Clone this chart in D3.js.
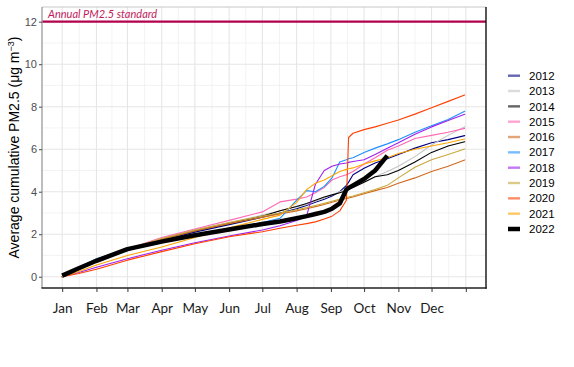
<!DOCTYPE html>
<html>
<head>
<meta charset="utf-8">
<script src="https://cdn.jsdelivr.net/npm/d3@7"></script>
<style>
  html, body { margin: 0; padding: 0; background: #fff; }
  svg { display: block; }
</style>
</head>
<body>
<svg id="chart" width="574" height="367"></svg>
<script>
// ---------- DATA ----------
const days = [1,16,32,60,91,121,152,182,198,213,222,230,238,245,252,258,260,264,274,284,295,305,320,335,350,365];

const v2012 = [0,0.35,0.8,1.25,1.7,2.1,2.45,2.8,3.0,3.2,3.35,3.5,3.65,3.8,4.0,4.3,4.45,4.8,5.1,5.35,5.55,5.75,6.05,6.3,6.45,6.64];
const v2013 = [0,0.35,0.8,1.3,1.8,2.2,2.55,2.9,3.1,3.3,3.4,3.55,3.7,3.85,4.0,4.1,4.12,4.2,4.45,4.7,4.95,5.2,5.65,6.2,6.65,7.06];
const v2014 = [0,0.35,0.8,1.25,1.75,2.15,2.5,2.85,3.1,3.3,3.45,3.6,3.75,3.85,3.95,4.05,4.1,4.2,4.45,4.7,4.8,5.0,5.4,5.85,6.15,6.35];
const v2015 = [0,0.35,0.75,1.3,1.85,2.25,2.65,3.05,3.52,3.65,3.75,3.95,4.2,4.55,4.7,4.8,4.85,4.95,5.3,5.6,5.95,6.15,6.5,6.65,6.8,6.98];
const v2016 = [0,0.4,0.85,1.3,1.75,2.15,2.5,2.8,2.95,3.1,3.2,3.3,3.4,3.5,3.6,3.68,3.7,3.75,3.9,4.05,4.2,4.4,4.65,4.95,5.2,5.49];
const v2017 = [0,0.45,0.85,1.3,1.65,1.95,2.25,2.55,2.75,3.6,4.05,4.0,4.25,4.65,5.4,5.5,5.55,5.6,5.85,6.05,6.25,6.45,6.8,7.1,7.4,7.78];
const v2018 = [0,0.2,0.45,0.85,1.25,1.6,1.92,2.2,2.4,2.65,2.85,4.35,5.0,5.2,5.3,5.35,5.38,5.42,5.5,5.75,6.05,6.3,6.7,7.05,7.35,7.64];
const v2019 = [0,0.35,0.8,1.3,1.8,2.2,2.55,2.85,3.0,3.15,3.25,3.35,3.45,3.55,3.65,3.72,3.75,3.8,3.95,4.1,4.3,4.65,5.15,5.5,5.75,6.01];
const v2020 = [0,0.15,0.35,0.78,1.18,1.55,1.88,2.12,2.28,2.42,2.5,2.58,2.72,2.85,3.1,3.6,6.55,6.75,6.92,7.05,7.22,7.37,7.65,7.95,8.25,8.55];
const v2021 = [0,0.25,0.55,1.0,1.4,1.85,2.3,2.7,2.9,3.5,4.1,4.4,4.55,4.75,4.95,5.05,5.08,5.12,5.3,5.45,5.6,5.8,6.0,6.15,6.3,6.48];
const v2022 = [0.05,0.4,0.75,1.3,1.65,1.95,2.22,2.48,2.6,2.75,2.85,2.95,3.05,3.2,3.45,4.1,4.18,4.3,4.6,5.0,5.7];

const years = ["2012","2013","2014","2015","2016","2017","2018","2019","2020","2021","2022"];
const seriesValues = [v2012,v2013,v2014,v2015,v2016,v2017,v2018,v2019,v2020,v2021,v2022];

const monthTickDays = [1,32,60,91,121,152,182,213,244,274,305,335,366];
const monthLabels = ["Jan","Feb","Mar","Apr","May","Jun","Jul","Aug","Sep","Oct","Nov","Dec",""];
const yTicks = [0,2,4,6,8,10,12];
const standardValue = 12;
const standardLabel = "Annual PM2.5 standard";

// ---------- STYLE ----------
const colors = ["#000080","#c4c4c4","#000000","#ff69b4","#d2691e","#1e90ff","#a020f0","#c9a73a","#ff4000","#ffa500","#000000"];

// ---------- LAYOUT ----------
const svg = d3.select("#chart");
const P = {left: 42, right: 486, top: 7, bottom: 288};

const x = d3.scaleLinear().domain([-17.25, 384.25]).range([P.left, P.right]);
const y = d3.scaleLinear().domain([-0.53, 12.69]).range([P.bottom, P.top]);

svg.append("rect").attr("width",574).attr("height",367).attr("fill","#fff");

svg.append("defs").append("clipPath").attr("id","pclip")
  .append("rect").attr("x",P.left).attr("y",P.top)
  .attr("width",P.right-P.left).attr("height",P.bottom-P.top);

const grid = svg.append("g");
const xMinor = d3.range(monthTickDays.length-1).map(i => (monthTickDays[i]+monthTickDays[i+1])/2);
const yMinor = d3.range(yTicks.length-1).map(i => (yTicks[i]+yTicks[i+1])/2);
grid.selectAll(".xm").data(xMinor).join("line")
  .attr("x1",d=>x(d)).attr("x2",d=>x(d)).attr("y1",P.top).attr("y2",P.bottom)
  .attr("stroke","#f0f0f0").attr("stroke-width",0.8);
grid.selectAll(".ym").data(yMinor).join("line")
  .attr("y1",d=>y(d)).attr("y2",d=>y(d)).attr("x1",P.left).attr("x2",P.right)
  .attr("stroke","#f0f0f0").attr("stroke-width",0.8);
grid.selectAll(".xM").data(monthTickDays).join("line")
  .attr("x1",d=>x(d)).attr("x2",d=>x(d)).attr("y1",P.top).attr("y2",P.bottom)
  .attr("stroke","#e6e6e6").attr("stroke-width",1.1);
grid.selectAll(".yM").data(yTicks).join("line")
  .attr("y1",d=>y(d)).attr("y2",d=>y(d)).attr("x1",P.left).attr("x2",P.right)
  .attr("stroke","#e6e6e6").attr("stroke-width",1.1);

// standard line
svg.append("line")
  .attr("x1",P.left).attr("x2",P.right)
  .attr("y1",y(standardValue)).attr("y2",y(standardValue))
  .attr("stroke","#b3004e").attr("stroke-width",2.2);
svg.append("text")
  .attr("x",P.left+6).attr("y",y(standardValue)-3.5)
  .attr("font-family","Lato, 'Open Sans', sans-serif").attr("font-style","italic")
  .attr("font-size",11).attr("fill","#c21a5c")
  .text(standardLabel);

// series lines
const line = d3.line().x(d=>x(d[0])).y(d=>y(d[1]));
const lines = svg.append("g").attr("clip-path","url(#pclip)");
seriesValues.forEach((vals,i) => {
  const pts = vals.map((v,j)=>[days[j], v]);
  const is22 = years[i] === "2022";
  lines.append("path")
    .attr("d", line(pts))
    .attr("fill","none")
    .attr("stroke", colors[i])
    .attr("stroke-width", is22 ? 4.5 : 1.1)
    .attr("stroke-linejoin","round")
    .attr("stroke-linecap", is22 ? "butt" : "round");
});

// panel border
svg.append("line").attr("x1",P.left).attr("x2",P.right).attr("y1",P.top).attr("y2",P.top)
  .attr("stroke","#c8c8c8").attr("stroke-width",1.2);
svg.append("line").attr("x1",P.left).attr("x2",P.left).attr("y1",P.top).attr("y2",P.bottom)
  .attr("stroke","#9a9a9a").attr("stroke-width",1.3);
svg.append("line").attr("x1",P.right).attr("x2",P.right).attr("y1",P.top).attr("y2",P.bottom+0.7)
  .attr("stroke","#111").attr("stroke-width",1.4);
svg.append("line").attr("x1",P.left-0.6).attr("x2",P.right+0.7).attr("y1",P.bottom).attr("y2",P.bottom)
  .attr("stroke","#222").attr("stroke-width",1.5);

// x axis
const xAxis = d3.axisBottom(x).tickValues(monthTickDays)
  .tickFormat((d,i)=>monthLabels[i]).tickSize(4).tickPadding(11);
const gx = svg.append("g").attr("transform",`translate(0,${P.bottom})`).call(xAxis);
gx.select(".domain").remove();
gx.selectAll(".tick line").attr("stroke","#333").attr("stroke-width",1);
gx.selectAll(".tick text").attr("font-family","Lato, 'Open Sans', sans-serif")
  .attr("font-size",13.5).attr("fill","#1a1a1a");

// y axis
const yAxis = d3.axisLeft(y).tickValues(yTicks).tickSize(3).tickPadding(2).tickFormat(d3.format("d"));
const gy = svg.append("g").attr("transform",`translate(${P.left},0)`).call(yAxis);
gy.select(".domain").remove();
gy.selectAll(".tick line").attr("stroke","#4d4d4d");
gy.selectAll(".tick text").attr("font-family","'Liberation Sans', Arial, sans-serif")
  .attr("font-size",11).attr("fill","#4d4d4d");

// y title
const yt = svg.append("text")
  .attr("transform",`translate(19,${(P.top+P.bottom)/2}) rotate(-90)`)
  .attr("text-anchor","middle")
  .attr("font-family","'Liberation Sans', Arial, sans-serif")
  .attr("font-size",14).attr("fill","#000");
yt.append("tspan").text("Average cumulative PM2.5 (μg m");
yt.append("tspan").attr("font-size",9).attr("dy",-5).text("−3");
yt.append("tspan").attr("dy",5).text(")");

// legend
const leg = svg.append("g").attr("transform","translate(508,75.7)");
years.forEach((yr,i) => {
  const is22 = yr === "2022";
  const g = leg.append("g").attr("transform",`translate(0,${i*15.33})`);
  g.append("line").attr("x1",0).attr("x2",12).attr("y1",0).attr("y2",0)
    .attr("stroke",colors[i]).attr("stroke-width", is22 ? 4.5 : 2.4)
    .attr("opacity", is22 ? 1 : 0.6);
  g.append("text").attr("x",21).attr("y",0).attr("dy","0.36em")
    .attr("font-family","'Liberation Sans', Arial, sans-serif")
    .attr("font-size",11.5).attr("fill","#000").text(yr);
});
</script>
</body>
</html>
